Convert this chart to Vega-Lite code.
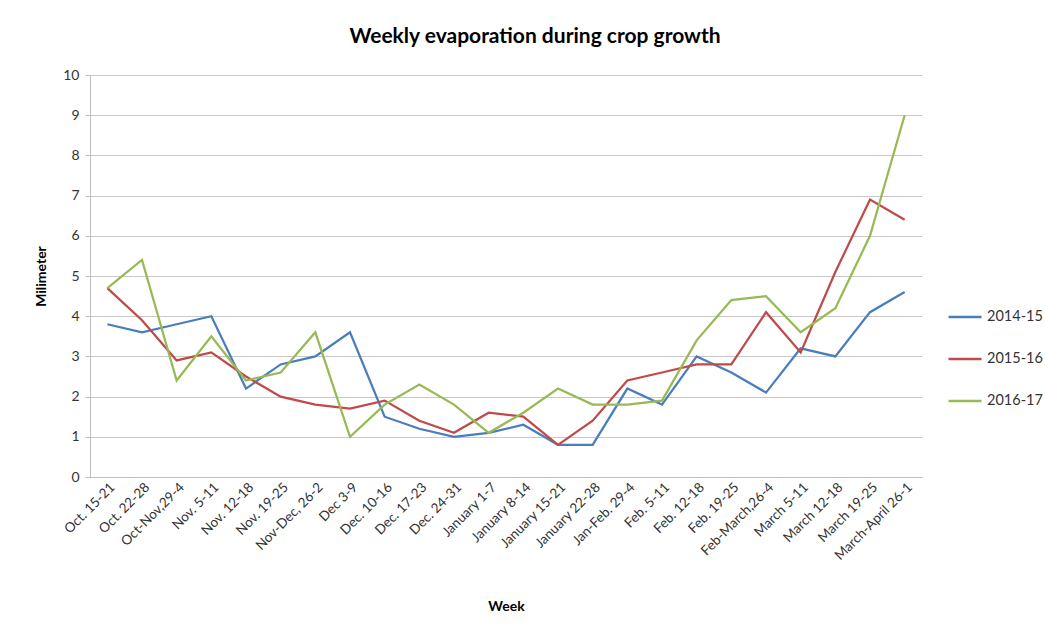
{
  "$schema": "https://vega.github.io/schema/vega-lite/v6.json",
  "width": 832,
  "height": 402,
  "autosize": {"type": "none"},
  "padding": {"left": 90, "top": 75, "right": 123, "bottom": 153},
  "background": "white",
  "title": {
    "text": "Weekly evaporation during crop growth",
    "font": "Lato",
    "fontSize": 21,
    "fontWeight": "bold",
    "color": "#000000",
    "offset": 21,
    "dx": 29
  },
  "config": {
    "view": {"stroke": null},
    "font": "Lato"
  },
  "datasets": {
    "evap": [
      {"week": "Oct. 15-21", "i": 0, "a": 3.8, "b": 4.7, "c": 4.7},
      {"week": "Oct. 22-28", "i": 1, "a": 3.6, "b": 3.9, "c": 5.4},
      {"week": "Oct-Nov,29-4", "i": 2, "a": 3.8, "b": 2.9, "c": 2.4},
      {"week": "Nov. 5-11", "i": 3, "a": 4.0, "b": 3.1, "c": 3.5},
      {"week": "Nov. 12-18", "i": 4, "a": 2.2, "b": 2.5, "c": 2.4},
      {"week": "Nov. 19-25", "i": 5, "a": 2.8, "b": 2.0, "c": 2.6},
      {"week": "Nov-Dec, 26-2", "i": 6, "a": 3.0, "b": 1.8, "c": 3.6},
      {"week": "Dec 3-9", "i": 7, "a": 3.6, "b": 1.7, "c": 1.0},
      {"week": "Dec. 10-16", "i": 8, "a": 1.5, "b": 1.9, "c": 1.8},
      {"week": "Dec. 17-23", "i": 9, "a": 1.2, "b": 1.4, "c": 2.3},
      {"week": "Dec. 24-31", "i": 10, "a": 1.0, "b": 1.1, "c": 1.8},
      {"week": "January 1-7", "i": 11, "a": 1.1, "b": 1.6, "c": 1.1},
      {"week": "January 8-14", "i": 12, "a": 1.3, "b": 1.5, "c": 1.6},
      {"week": "January 15-21", "i": 13, "a": 0.8, "b": 0.8, "c": 2.2},
      {"week": "January 22-28", "i": 14, "a": 0.8, "b": 1.4, "c": 1.8},
      {"week": "Jan-Feb. 29-4", "i": 15, "a": 2.2, "b": 2.4, "c": 1.8},
      {"week": "Feb. 5-11", "i": 16, "a": 1.8, "b": 2.6, "c": 1.9},
      {"week": "Feb. 12-18", "i": 17, "a": 3.0, "b": 2.8, "c": 3.4},
      {"week": "Feb. 19-25", "i": 18, "a": 2.6, "b": 2.8, "c": 4.4},
      {"week": "Feb-March,26-4", "i": 19, "a": 2.1, "b": 4.1, "c": 4.5},
      {"week": "March 5-11", "i": 20, "a": 3.2, "b": 3.1, "c": 3.6},
      {"week": "March 12-18", "i": 21, "a": 3.0, "b": 5.1, "c": 4.2},
      {"week": "March 19-25", "i": 22, "a": 4.1, "b": 6.9, "c": 6.0},
      {"week": "March-April 26-1", "i": 23, "a": 4.6, "b": 6.4, "c": 9.0}
    ]
  },
  "data": {"name": "evap"},
  "transform": [
    {"fold": ["a", "b", "c"], "as": ["key", "value"]},
    {"lookup": "key", "from": {"data": {"values": [
      {"key": "a", "season": "2014-15"},
      {"key": "b", "season": "2015-16"},
      {"key": "c", "season": "2016-17"}
    ]}, "key": "key", "fields": ["season"]}}
  ],
  "mark": {"type": "line", "strokeWidth": 2.25, "interpolate": "linear"},
  "encoding": {
    "x": {
      "field": "week",
      "type": "ordinal",
      "sort": {"field": "i", "op": "min"},
      "scale": {"padding": 0.5},
      "axis": {
        "title": "Week",
        "titleFont": "Lato",
        "titleFontSize": 14,
        "titleFontWeight": "bold",
        "titleColor": "#000000",
        "titlePadding": 37,
        "labelAngle": -45,
        "labelAlign": "right",
        "labelBaseline": "top",
        "labelFont": "Lato",
        "labelFontSize": 13.5,
        "labelColor": "#333333",
        "labelPadding": 3,
        "ticks": false,
        "domainColor": "#BFBFBF",
        "domainWidth": 1,
        "grid": false
      }
    },
    "y": {
      "field": "value",
      "type": "quantitative",
      "scale": {"domain": [0, 10], "nice": false},
      "axis": {
        "title": "Milimeter",
        "titleFont": "Lato",
        "titleFontSize": 14,
        "titleFontWeight": "bold",
        "titleColor": "#000000",
        "titlePadding": 14,
        "values": [0, 1, 2, 3, 4, 5, 6, 7, 8, 9, 10],
        "labelFont": "Lato",
        "labelFontSize": 14,
        "labelColor": "#333333",
        "labelPadding": 6,
        "tickSize": 5,
        "tickColor": "#BFBFBF",
        "domainColor": "#BFBFBF",
        "gridColor": "#C8C8C8",
        "gridWidth": 1
      }
    },
    "color": {
      "field": "season",
      "type": "nominal",
      "scale": {"domain": ["2014-15", "2015-16", "2016-17"], "range": ["#4A7EBB", "#BE4B48", "#98B954"]},
      "legend": {
        "title": null,
        "orient": "none",
        "legendX": 857,
        "legendY": 224,
        "symbolType": "stroke",
        "symbolSize": 1089,
        "symbolStrokeWidth": 2.5,
        "labelFont": "Lato",
        "labelFontSize": 14.5,
        "labelColor": "#333333",
        "rowPadding": 17,
        "labelOffset": 4
      }
    }
  }
}
